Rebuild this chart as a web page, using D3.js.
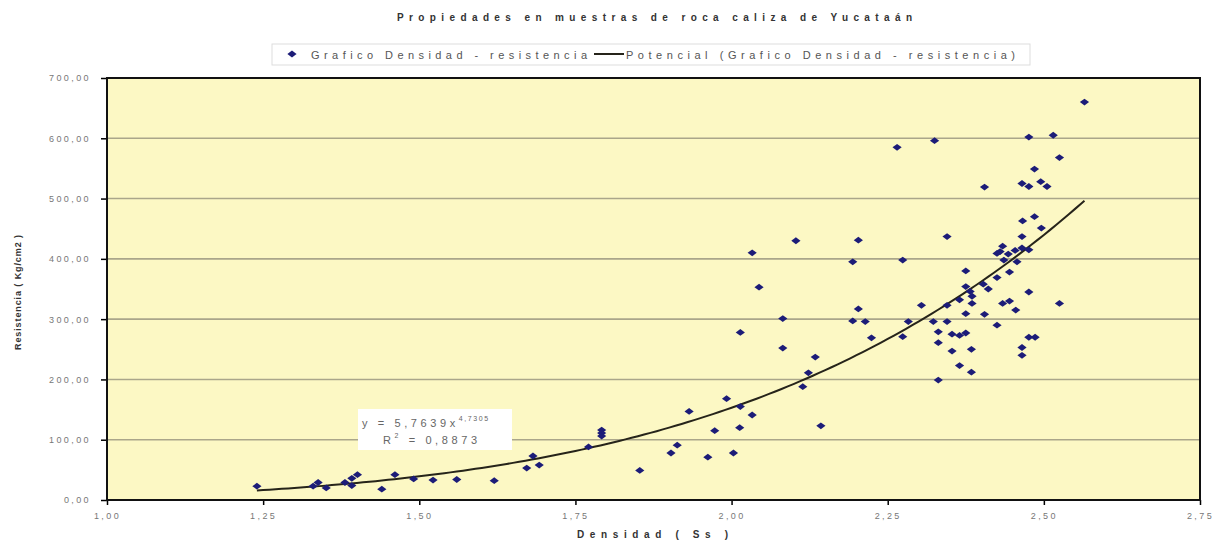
<!DOCTYPE html>
<html>
<head>
<meta charset="utf-8">
<script src="https://cdn.jsdelivr.net/npm/d3@7"></script>
<style>
  body { margin: 0; background: #fff; }
  svg { display: block; font-family: "Liberation Sans", Arial, sans-serif; }
  .tick text { fill: #777; font-size: 9px; letter-spacing: 2.4px; }
  .tick line { stroke: #000; stroke-width: 1.5; }
</style>
</head>
<body>
<div id="chart"></div>
<script>
// densidad (Ss)
const densidad = [
  1.240, 1.330, 1.338, 1.351, 1.381, 1.392, 1.401, 1.392, 1.440, 1.461,
  1.491, 1.522, 1.560, 1.620, 1.672, 1.682, 1.692, 1.771, 1.792, 1.792,
  1.792, 1.853, 1.903, 1.913, 1.932, 1.962, 1.973, 1.992, 2.003, 2.013,
  2.014, 2.033, 2.014, 2.082, 2.114, 2.123, 2.134, 2.143, 2.033, 2.044,
  2.082, 2.103, 2.194, 2.203, 2.194, 2.203, 2.214, 2.224, 2.274, 2.274,
  2.283, 2.304, 2.323, 2.331, 2.331, 2.331, 2.265, 2.325, 2.345, 2.345,
  2.345, 2.353, 2.365, 2.375, 2.353, 2.365, 2.384, 2.384, 2.365, 2.375,
  2.403, 2.411, 2.382, 2.385, 2.375, 2.375, 2.385, 2.405, 2.425, 2.425,
  2.434, 2.445, 2.455, 2.445, 2.476, 2.465, 2.465, 2.476, 2.486, 2.525,
  2.425, 2.430, 2.443, 2.454, 2.465, 2.476, 2.457, 2.436, 2.434, 2.465,
  2.466, 2.496, 2.485, 2.405, 2.465, 2.476, 2.495, 2.505, 2.485, 2.525,
  2.476, 2.515, 2.565
];
// resistencia (Kg/cm2)
const resistencia = [
  23, 23, 29, 20, 29, 36, 42, 24, 18, 42,
  35, 33, 34, 32, 53, 73, 58, 88, 116, 111,
  106, 49, 78, 91, 147, 71, 115, 168, 78, 120,
  155, 141, 278, 252, 188, 211, 237, 123, 410, 353,
  301, 430, 395, 431, 297, 317, 296, 269, 398, 271,
  296, 323, 296, 279, 261, 199, 585, 596, 437, 323,
  296, 275, 273, 277, 247, 223, 250, 212, 332, 354,
  358, 350, 346, 338, 380, 309, 326, 308, 290, 369,
  326, 330, 315, 378, 345, 253, 240, 270, 270, 326,
  409, 412, 408, 414, 418, 415, 395, 398, 421, 437,
  463, 451, 470, 519, 525, 520, 528, 520, 549, 568,
  602, 605, 660
];
const points = densidad.map((d, i) => ({ x: d, y: resistencia[i] }));

// trend line (Potencial): y = a * x^b, over the data's x range
const trendA = 5.7639;
const trendB = 4.7305;
const trendR2 = "0,8873";
const trendRange = d3.extent(densidad);

const xTicks = [1.0, 1.25, 1.5, 1.75, 2.0, 2.25, 2.5, 2.75];
const yTicks = [0, 100, 200, 300, 400, 500, 600, 700];

const titleText = "Propiedades en muestras de roca caliza de Yucataán";
const seriesName = "Grafico Densidad - resistencia";
const trendName = "Potencial (Grafico Densidad - resistencia)";

const width = 1226;
const height = 546;
const plot = { left: 107, right: 1200, top: 78, bottom: 500 };

const locale = d3.formatLocale({ decimal: ",", thousands: ".", grouping: [3], currency: ["", ""] });
const fmt = locale.format(".2f");

const x = d3.scaleLinear().domain([1, 2.75]).range([plot.left, plot.right]);
const y = d3.scaleLinear().domain([0, 700]).range([plot.bottom, plot.top]);

const svg = d3.select("#chart").append("svg")
    .attr("width", width)
    .attr("height", height);

//plot background
svg.append("rect")
    .attr("x", plot.left).attr("y", plot.top)
    .attr("width", plot.right - plot.left)
    .attr("height", plot.bottom - plot.top)
    .attr("fill", "#fcf8c4");

//grid
svg.append("g")
    .selectAll("line")
    .data(yTicks.slice(1, -1))
    .join("line")
    .attr("x1", plot.left).attr("x2", plot.right)
    .attr("y1", (d) => y(d)).attr("y2", (d) => y(d))
    .attr("stroke", "#aaa68a")
    .attr("stroke-width", 1.6);

//axes
svg.append("g")
    .attr("transform", `translate(${plot.left},0)`)
    .call(d3.axisLeft(y).tickValues(yTicks).tickFormat(fmt).tickSize(6).tickPadding(10))
    .call((g) => g.select(".domain").remove());

svg.append("g")
    .attr("transform", `translate(0,${plot.bottom})`)
    .call(d3.axisBottom(x).tickValues(xTicks).tickFormat(fmt).tickSize(5).tickPadding(8))
    .call((g) => g.select(".domain").remove());

//plot border
svg.append("rect")
    .attr("x", plot.left).attr("y", plot.top)
    .attr("width", plot.right - plot.left)
    .attr("height", plot.bottom - plot.top)
    .attr("fill", "none")
    .attr("stroke", "#111")
    .attr("stroke-width", 2);

//trend line
const trendData = d3.range(trendRange[0], trendRange[1], 0.01)
    .concat([trendRange[1]])
    .map((d) => ({ x: d, y: trendA * Math.pow(d, trendB) }));

svg.append("path")
    .datum(trendData)
    .attr("fill", "none")
    .attr("stroke", "#26241a")
    .attr("stroke-width", 2)
    .attr("d", d3.line().x((d) => x(d.x)).y((d) => y(d.y)));

//points
const diamond = "M-4.6,0L0,-3.4L4.6,0L0,3.4Z";
svg.append("g")
    .selectAll("path")
    .data(points)
    .join("path")
    .attr("d", diamond)
    .attr("fill", "#1c1c78")
    .attr("transform", (d) => `translate(${x(d.x)},${y(d.y)})`);

//equation label
const eq = svg.append("g");
eq.append("rect")
    .attr("x", 358).attr("y", 409)
    .attr("width", 154).attr("height", 41)
    .attr("fill", "#fff");
const eqLine = eq.append("text")
    .attr("x", 362).attr("y", 427)
    .attr("fill", "#666")
    .attr("font-size", 11)
    .attr("letter-spacing", "3.6px");
eqLine.append("tspan").text("y = 5,7639x");
eqLine.append("tspan")
    .attr("dy", -6)
    .attr("font-size", 7)
    .attr("letter-spacing", "1.6px")
    .text("4,7305");
const r2Line = eq.append("text")
    .attr("x", 383).attr("y", 444)
    .attr("fill", "#666")
    .attr("font-size", 11)
    .attr("letter-spacing", "3.6px");
r2Line.append("tspan").text("R");
r2Line.append("tspan").attr("dy", -6).attr("font-size", 7).text("2");
r2Line.append("tspan").attr("dy", 6).text(" = " + trendR2);

//title
svg.append("text")
    .attr("x", 397).attr("y", 21)
    .attr("textLength", 515)
    .attr("lengthAdjust", "spacing")
    .attr("font-size", 10)
    .attr("font-weight", "bold")
    .attr("fill", "#333")
    .text(titleText);

//legend
const legend = svg.append("g");
legend.append("rect")
    .attr("x", 272).attr("y", 44)
    .attr("width", 758).attr("height", 21)
    .attr("fill", "#fff")
    .attr("stroke", "#ddd");
legend.append("path")
    .attr("d", diamond)
    .attr("fill", "#1c1c78")
    .attr("transform", "translate(292,54)");
legend.append("text")
    .attr("x", 311).attr("y", 59)
    .attr("textLength", 276)
    .attr("lengthAdjust", "spacing")
    .attr("font-size", 11)
    .attr("fill", "#555")
    .text(seriesName);
legend.append("line")
    .attr("x1", 594).attr("x2", 624)
    .attr("y1", 54).attr("y2", 54)
    .attr("stroke", "#26241a")
    .attr("stroke-width", 2);
legend.append("text")
    .attr("x", 626).attr("y", 59)
    .attr("textLength", 389)
    .attr("lengthAdjust", "spacing")
    .attr("font-size", 11)
    .attr("fill", "#555")
    .text(trendName);

//axis titles
svg.append("text")
    .attr("x", 577).attr("y", 538)
    .attr("textLength", 151)
    .attr("lengthAdjust", "spacing")
    .attr("font-size", 10)
    .attr("font-weight", "bold")
    .attr("fill", "#333")
    .text("Densidad ( Ss )");

svg.append("text")
    .attr("transform", "translate(21,350)rotate(-90)")
    .attr("textLength", 115)
    .attr("lengthAdjust", "spacing")
    .attr("font-size", 9)
    .attr("font-weight", "bold")
    .attr("fill", "#333")
    .text("Resistencia ( Kg/cm2 )");
</script>
</body>
</html>
